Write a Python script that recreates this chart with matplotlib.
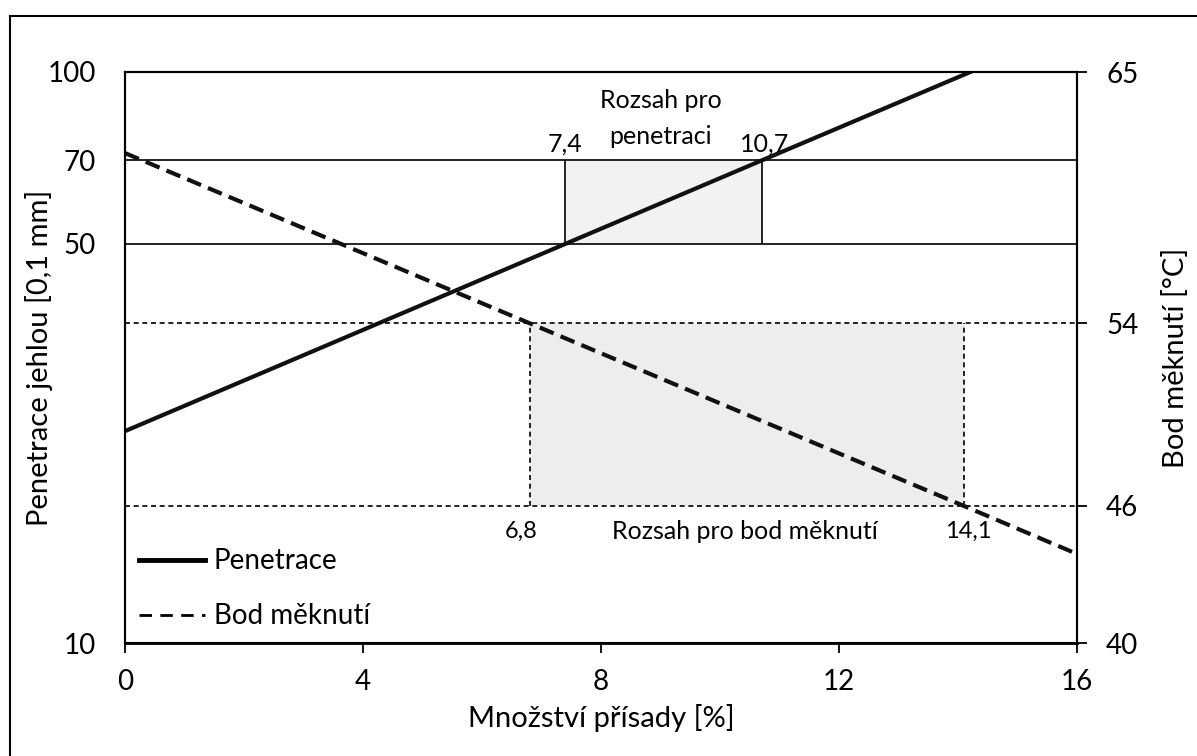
import numpy as np
import matplotlib.pyplot as plt
from matplotlib.lines import Line2D
from matplotlib.ticker import FixedLocator, FixedFormatter, NullLocator

plt.rcParams['font.family'] = ['Lato', 'DejaVu Sans']

# data
x_pen = [0, 7.4, 10.7, 16]
y_pen = [23.5, 50, 70, 120]          # penetrace [0,1 mm], log scale
x_bod = [0, 6.8, 14.1, 16]
y_bod = [61.45, 54, 46, 43.9]        # bod měknutí [°C]

pen_range = [7.4, 10.7]
pen_limits = [50, 70]
bod_range = [6.8, 14.1]
bod_limits = [46, 54]

left_ticks = [10, 50, 70, 100]
right_ticks = [40, 46, 54, 65]
x_ticks = [0, 4, 8, 12, 16]

fig = plt.figure(figsize=(11.97, 7.56), dpi=100)
ax = fig.add_axes([125/1197, 1 - 643/756, 952/1197, 571/756])
ax2 = ax.twinx()

# penetration range
ax.fill_between(pen_range, pen_limits[0], pen_limits[1], color='#f2f2f2', lw=0, zorder=0)
for v in pen_limits:
    ax.axhline(v, color='black', lw=1.2, zorder=1)
ax.vlines(pen_range, pen_limits[0], pen_limits[1], color='black', lw=1.2, zorder=1)
ax.plot(x_pen, y_pen, color='#111111', lw=3, solid_capstyle='butt', zorder=3)

ax.set_yscale('log')
ax.set_xlim(0, 16)
ax.set_ylim(10, 100)
ax.yaxis.set_major_locator(FixedLocator(left_ticks))
ax.yaxis.set_major_formatter(FixedFormatter([str(t) for t in left_ticks]))
ax.yaxis.set_minor_locator(NullLocator())
ax.set_xticks(x_ticks)
ax.tick_params(axis='y', length=0, labelsize=20, pad=21)
ax.tick_params(axis='x', length=7, width=1.3, direction='out', labelsize=20, pad=12)

# softening point range
ax2.fill_between(bod_range, bod_limits[0], bod_limits[1], color='#ededed', lw=0, zorder=0)
for v in bod_limits:
    ax2.axhline(v, color='black', lw=1.2, dashes=(3, 2.2), zorder=1)
ax2.vlines(bod_range, bod_limits[0], bod_limits[1], color='black', lw=1.2,
           linestyles=(0, (3, 2.2)), zorder=1)
ax2.plot(x_bod, y_bod, color='#111111', lw=3, dashes=(3.6, 1.8), zorder=3)
ax2.set_ylim(40, 65)
ax2.set_yticks(right_ticks)
ax2.tick_params(axis='y', length=7, width=1.3, direction='out', labelsize=20, pad=14)

for a in (ax, ax2):
    for s in a.spines.values():
        s.set_linewidth(1.5)
ax.spines['bottom'].set_linewidth(2)

ax.set_xlabel('Množství přísady [%]', fontsize=21, va='center')
ax.xaxis.set_label_coords(0.5, (643 - 718) / 571)
ax.set_ylabel('Penetrace jehlou [0,1 mm]', fontsize=21, va='center')
ax.yaxis.set_label_coords((39 - 125) / 952, 0.5)
ax2.set_ylabel('Bod měknutí [°C]', fontsize=21, va='center')
ax2.yaxis.set_label_coords((1176 - 125) / 952, 0.5)

# annotations
ax.text(9.0, 82.9, 'Rozsah pro\npenetraci', ha='center', va='center', fontsize=18,
        linespacing=1.65)
ax.text(7.4, 71.5, '7,4', ha='center', va='bottom', fontsize=18)
ax.text(10.75, 71.5, '10,7', ha='center', va='bottom', fontsize=18)
ax2.text(6.65, 44.9, '6,8', ha='center', va='center', fontsize=17)
ax2.text(10.42, 44.9, 'Rozsah pro bod měknutí', ha='center', va='center', fontsize=18)
ax2.text(14.17, 44.9, '14,1', ha='center', va='center', fontsize=17)

handles = [Line2D([], [], color='black', lw=3.5),
           Line2D([], [], color='black', lw=2, dashes=(4.5, 3))]
ax2.legend(handles, ['Penetrace', 'Bod měknutí'], loc='lower left',
           bbox_to_anchor=(-0.012, -0.02), frameon=False, fontsize=20,
           handlelength=2.4, handletextpad=0.3, labelspacing=1.05)

# outer frame (left and top edges visible)
fig.add_artist(Line2D([9.5/1197, 9.5/1197], [0, 1 - 15.5/756], color='black', lw=1.5))
fig.add_artist(Line2D([9.5/1197, 1], [1 - 15.5/756, 1 - 15.5/756], color='black', lw=1.5))

fig.savefig('out.png', dpi=100)
